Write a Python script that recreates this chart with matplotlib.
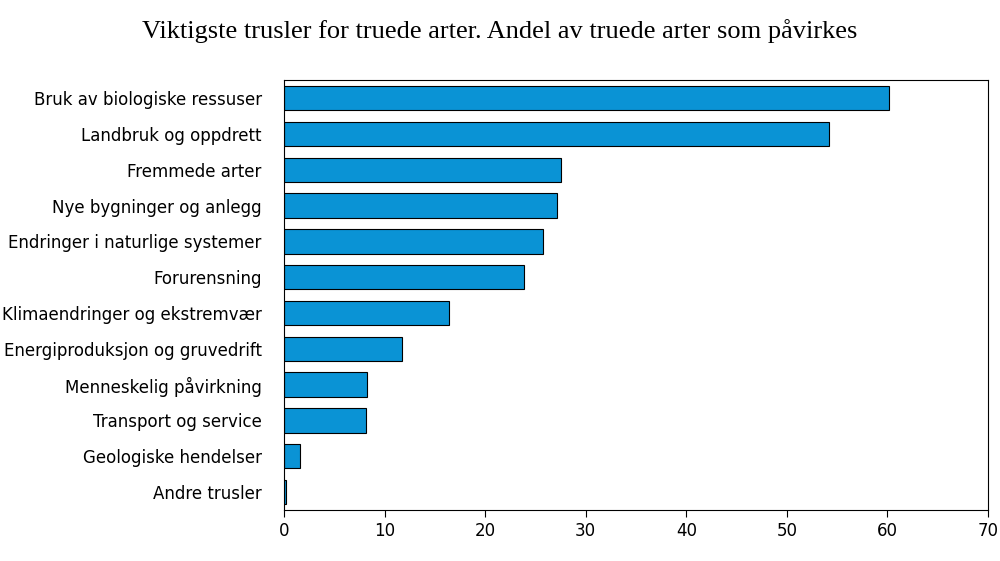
import matplotlib

matplotlib.use("Agg")
import matplotlib.pyplot as plt  # noqa: E402
import numpy as np  # noqa: E402

categories = [
    "Bruk av biologiske ressuser",
    "Landbruk og oppdrett",
    "Fremmede arter",
    "Nye bygninger og anlegg",
    "Endringer i naturlige systemer",
    "Forurensning",
    "Klimaendringer og ekstremvær",
    "Energiproduksjon og gruvedrift",
    "Menneskelig påvirkning",
    "Transport og service",
    "Geologiske hendelser",
    "Andre trusler",
]
values = [60.2, 54.2, 27.5, 27.1, 25.8, 23.9, 16.4, 11.7, 8.3, 8.2, 1.6, 0.2]
xticks = [0, 10, 20, 30, 40, 50, 60, 70]

fig = plt.figure(figsize=(10, 5.61), dpi=100)
ax = fig.add_axes([0.284, 0.091, 0.704, 0.766])
y = np.arange(len(categories))
ax.barh(y, values, height=0.68, color="#0a93d5", edgecolor="black", linewidth=0.8)
ax.set_yticks(y)
ax.set_yticklabels(categories, fontsize=12)
ax.set_ylim(len(categories) - 0.5, -0.5)
ax.set_xlim(0, 70)
ax.set_xticks(xticks)
ax.tick_params(axis="x", labelsize=12, direction="out", length=5)
ax.tick_params(axis="y", length=0, pad=16)
for s in ax.spines.values():
    s.set_linewidth(0.8)
fig.text(0.5, 0.945, "Viktigste trusler for truede arter. Andel av truede arter som påvirkes",
         ha="center", va="center", fontsize=19, family="Liberation Serif")
fig.savefig("out.png", dpi=100)
